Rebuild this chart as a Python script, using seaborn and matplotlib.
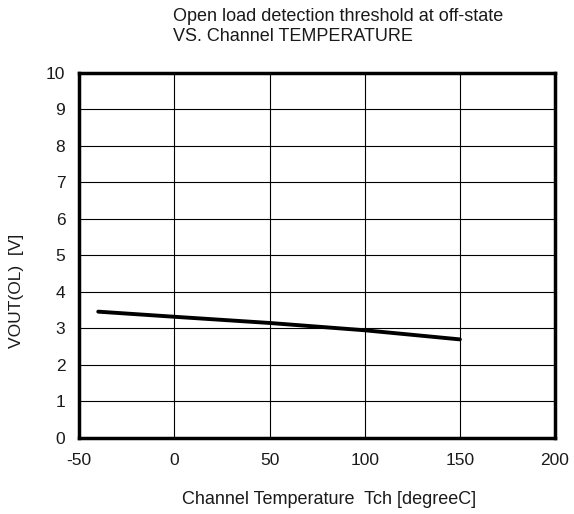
import matplotlib
matplotlib.use("Agg")
import matplotlib.pyplot as plt
import seaborn as sns
import pandas as pd

# channel temperature [degC] vs VOUT(OL) [V]
temp = [-40, 0, 50, 100, 150]
vout = [3.46, 3.32, 3.15, 2.95, 2.70]

sns.set_style("white")
plt.rcParams['font.family'] = ['Liberation Sans', 'DejaVu Sans']
plt.rcParams['axes.unicode_minus'] = False
txt = "#1a1a1a"

fig = plt.figure(figsize=(5.74, 5.14), dpi=100)
ax = fig.add_axes([0.138, 0.148, 0.829, 0.71])

df = pd.DataFrame({"temp": temp, "vout": vout})
sns.lineplot(data=df, x="temp", y="vout", ax=ax, color="black", linewidth=2.8)

ax.set_xlim(-50, 200)
ax.set_ylim(0, 10)
ax.set_xticks([-50, 0, 50, 100, 150, 200])
ax.set_yticks(range(0, 11))
ax.grid(True, color="black", linewidth=0.8)
ax.tick_params(axis="x", labelsize=12.5, length=0, pad=11, labelcolor=txt)
ax.tick_params(axis="y", labelsize=12.5, length=0, pad=10, labelcolor=txt)
for s in ax.spines.values():
    s.set_color("black")
    s.set_linewidth(2.5)
ax.set_xlabel("")
ax.set_ylabel("")

fig.text(0.301, 0.984, "Open load detection threshold at off-state\nVS. Channel TEMPERATURE",
         ha="left", va="top", fontsize=13, linespacing=1.2, color=txt)
fig.text(0.573, 0.029, "Channel Temperature  Tch [degreeC]", ha="center", va="center",
         fontsize=13, color=txt)
fig.text(0.028, 0.435, "VOUT(OL)  [V]", ha="center", va="center", rotation=90,
         fontsize=12.5, color=txt)

fig.savefig("out.png", dpi=100)
